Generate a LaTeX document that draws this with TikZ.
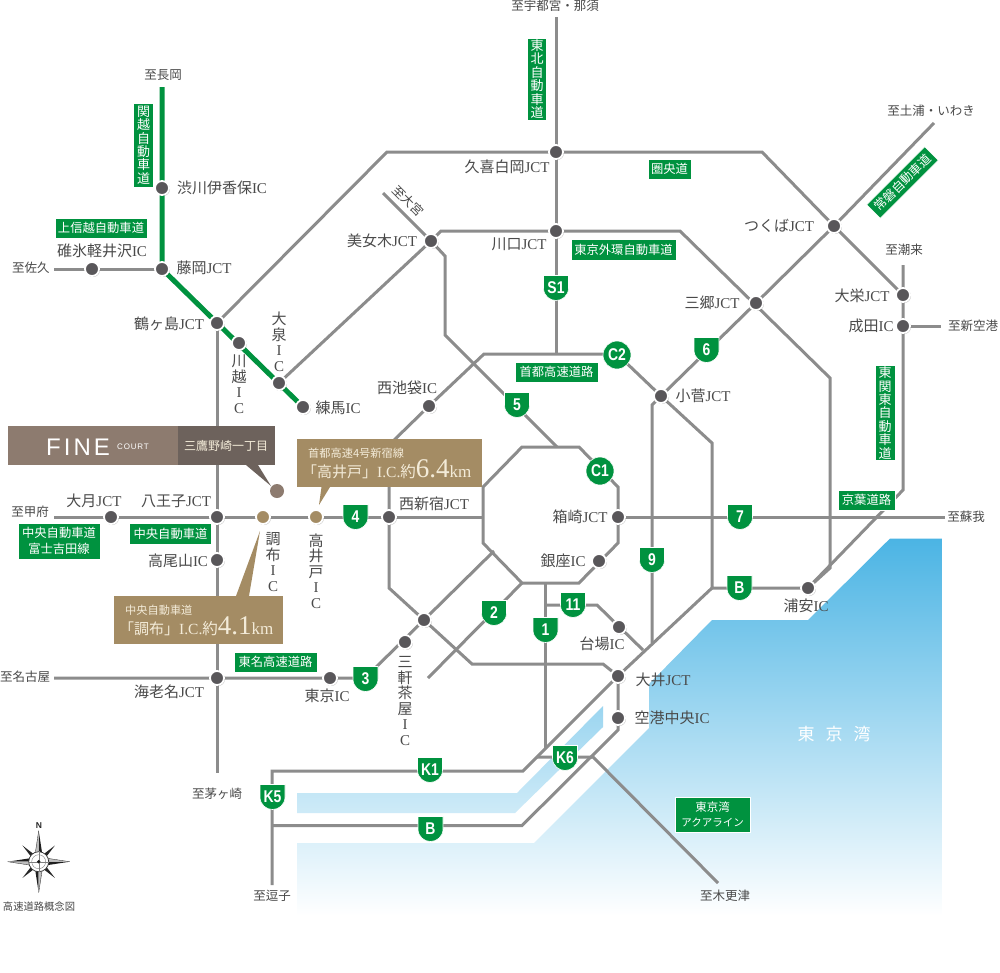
\documentclass[tikz,border=0pt]{standalone}
\usepackage{fontspec}
\usetikzlibrary{backgrounds,shadows,calc}
\setmainfont{Liberation Serif}
\setsansfont{Liberation Sans}
\newfontfamily\cjk{Noto Sans CJK JP}
\newfontfamily\badgefont[FakeStretch=0.82]{Liberation Sans Bold}
\definecolor{gr}{HTML}{00923F}
\definecolor{road}{HTML}{8C8C8C}
\definecolor{ink}{HTML}{4A4A4A}
\definecolor{jn}{HTML}{59575A}
\definecolor{tan}{HTML}{A48C64}
\definecolor{tanl}{HTML}{F3EBD8}
\definecolor{fine}{HTML}{8D7B6F}
\definecolor{fined}{HTML}{6D625C}
\makeatletter
\newdimen\shxa \newdimen\shxb \newdimen\shya \newdimen\shyb \newdimen\shxm \newdimen\shym
\pgfdeclareshape{shieldbadge}{%
  \inheritsavedanchors[from=rectangle]
  \inheritanchorborder[from=rectangle]
  \inheritanchor[from=rectangle]{center}
  \backgroundpath{%
    \southwest \shxa=\pgf@x \shya=\pgf@y
    \northeast \shxb=\pgf@x \shyb=\pgf@y
    \shxm=.5\shxa \advance\shxm by .5\shxb
    \shym=.5\shya \advance\shym by .5\shyb
    \pgfpathmoveto{\pgfqpoint{\shxa}{\shyb}}
    \pgfpathlineto{\pgfqpoint{\shxb}{\shyb}}
    \pgfpathlineto{\pgfqpoint{\shxb}{\shym}}
    \pgfpathcurveto{\pgfpointadd{\pgfqpoint{\shxb}{\shym}}{\pgfqpoint{0pt}{-8pt}}}
                   {\pgfpointadd{\pgfqpoint{\shxm}{\shya}}{\pgfqpoint{6pt}{0pt}}}
                   {\pgfqpoint{\shxm}{\shya}}
    \pgfpathcurveto{\pgfpointadd{\pgfqpoint{\shxm}{\shya}}{\pgfqpoint{-6pt}{0pt}}}
                   {\pgfpointadd{\pgfqpoint{\shxa}{\shym}}{\pgfqpoint{0pt}{-8pt}}}
                   {\pgfqpoint{\shxa}{\shym}}
    \pgfpathclose
  }%
}
\makeatother
\newcommand{\J}[1]{{\cjk #1}}
\tikzset{
  x=1pt,y=-1pt,
  roadline/.style={draw=road,line width=3pt,line join=miter},
  greenline/.style={draw=gr,line width=5pt},
  jct/.style={circle,fill=jn,draw=white,line width=1.8pt,minimum size=14pt,inner sep=0pt,outer sep=0pt,
     drop shadow={shadow xshift=1pt,shadow yshift=-1pt,opacity=.22,fill=black}},
  tanpt/.style={jct,fill=tan},
  place/.style={font=\fontsize{15}{15}\selectfont,text=ink,inner sep=0pt},
  dest/.style={font=\fontsize{12.5}{13}\cjk,text=ink,inner sep=0pt},
  vlab/.style={place,align=center,font=\fontsize{15}{15.5}\selectfont},
  gbox/.style={fill=gr,draw=white,line width=.4pt,text=white,inner sep=0pt,align=center,
     font=\fontsize{12.3}{14}\cjk},
  gvert/.style={gbox,font=\fontsize{13}{13.4}\cjk},
  badge/.style={shape=shieldbadge,fill=gr,draw=white,line width=.6pt,minimum width=25pt,minimum height=25pt,
     inner sep=0pt,outer sep=0pt,text=white,font=\fontsize{17}{17}\badgefont},
  cbadge/.style={circle,fill=gr,draw=white,line width=.6pt,minimum size=28pt,inner sep=0pt,outer sep=0pt,
     text=white,font=\fontsize{17}{17}\badgefont},
  tanbox/.style={fill=tan,inner sep=0pt,outer sep=0pt},
  tantxt/.style={text=tanl,inner sep=0pt,anchor=base west},
}
\begin{document}
\begin{tikzpicture}
\useasboundingbox (0,0) rectangle (1000,972);

% ---------- bends of the roads
\foreach \n/\xx/\yy in {
 tohN/556/17, kenA/387/152, kenB/762/152,
 tokN/903/265, tokB/903/490, nar/941/326,
 jobN/934/123, nineA/652/405, nineB/652/643,
 gaiA/441/231, gaiB/680/231, gaiC/830/378, gaiD/830/568,
 omi/383/193, fiveA/445/256, fiveB/445/335, fiveC/557/447,
 cA/484/354, cTop/617/354, cB/712/443, cC/712/588, shuto/556/354, cD/389/445, cE/389/588,
 cF/472/664, cG/603/664,
 oA/522/447, oB/579/447, oC/618/487, oD/618/543, oE/579/583, oF/522/583, oG/483/543, oH/483/487,
 fourW/54/517, fourE/483/517, sevenE/945/517,
 tomW/54/678, three/365/678, threeE/494/551,
 twoS/428/678, oneT/545/583, oneB/545/748,
 elA/545/605, elB/597/605, elC/643/650,
 kA/523/771, kB/272/771, kC/272/885,
 bA/272/825.5, bB/522/825.5, bC/618/730,
 ksA/537/757, ksB/593/757, ksC/718/883,
 usW/54/269, chS/217/773, kanN/162/87
}{\coordinate (\n) at (\xx,\yy);}

% ---------- junctions
\foreach \n/\xx/\yy in {
 kuki/556/152, kawag/556/231, bijo/431/241, tsuku/834/226, misa/756/303,
 daie/903/295, nari/903/326, kosu/661/396, hako/618/517, ginza/599/561,
 odai/619/627, oi/618/676, kuko/618/718, ura/808/588, nishi/389/517,
 ikeb/429/406, oizu/279/383, neri/303/407, kawa/239/343, tsuru/217/323,
 fuji/162/269, usui/92/269, shibu/162/188, otsu/111/517, hachi/217/517,
 takao/217/560, ebina/217/678, tokyo/330/678, sang/405/642, ikej/424/620
}{\node[jct] (\n) at (\xx,\yy) {};}
\node[tanpt] (chofu) at (263,517) {};
\node[tanpt] (taka) at (316,517) {};
\node[circle,fill=fine,minimum size=14pt,inner sep=0pt,outer sep=0pt] (mitaka) at (277,491) {};

% ---------- water and roads
\begin{scope}[on background layer]
  \fill[white] (0,0) rectangle (1000,972);
  \begin{scope}
    \clip (890,538.5) -- (942,538.5) -- (942,915) -- (297,915) -- (297,843) -- (534,843)
          -- (649,728) -- (649,684) -- (712,620) -- (808,620) -- cycle
          (297,793) -- (517,793) -- (603,706) -- (603,727) -- (515,813) -- (297,813) -- cycle;
    \shade[top color={rgb,255:red,75;green,180;blue,228},
          middle color={rgb,255:red,160;green,216;blue,241},
          bottom color=white] (297,538) rectangle (942,916);
  \end{scope}

  \path[roadline] (tohN) -- (kuki.center) -- (kawag.center) -- (shuto);
  \path[roadline] (tsuru.center) -- (kenA) -- (kenB) -- (tsuku.center) -- (daie.center);
  \path[roadline] (tokN) -- (daie.center) -- (nari.center) -- (tokB) -- (ura.center);
  \path[roadline] (nari.center) -- (nar);
  \path[roadline] (jobN) -- (tsuku.center) -- (misa.center) -- (kosu.center) -- (nineA) -- (nineB);
  \path[roadline] (bijo.center) -- (gaiA) -- (gaiB) -- (gaiC) -- (gaiD) -- (ura.center);
  \path[roadline] (bijo.center) -- (oizu.center);
  \path[roadline] (omi) -- (bijo.center) -- (fiveA) -- (fiveB) -- (fiveC);
  \path[roadline] (cD) -- (ikeb.center) -- (cA) -- (cTop) -- (kosu.center) -- (cB) -- (cC) -- (ura.center);
  \path[roadline] (cD) -- (cE) -- (ikej.center) -- (cF) -- (cG) -- (oi.center);
  \path[roadline] (cC) -- (oi.center) -- (kA) -- (kB) -- (kC);
  \path[roadline] (bA) -- (bB) -- (bC) -- (oi.center);
  \path[roadline] (ksA) -- (ksB) -- (ksC);
  \path[roadline] (oA) -- (oB) -- (oC) -- (oD) -- (oE) -- (oF) -- (oG) -- (oH) -- cycle;
  \path[roadline] (fourW) -- (fourE);
  \path[roadline] (hako.center) -- (sevenE);
  \path[roadline] (tomW) -- (three) -- (threeE);
  \path[roadline] (twoS) -- (oF);
  \path[roadline] (oneT) -- (oneB);
  \path[roadline] (elA) -- (elB) -- (elC);
  \path[roadline] (usW) -- (fuji.center);
  \path[roadline] (tsuru.center) -- (chS);
  \path[greenline] (kanN) -- (fuji.center) -- (neri.center);
\end{scope}

% ---------- shields
\foreach \n/\t/\xx/\yy in {
 bS/S1/556/288, b6/6/706.5/350, b5/5/517/405, b4/4/355.5/517, b7/7/740/517, b9/9/652/560,
 bB1/B/739.5/588, b2/2/494/613, b1/1/545.5/630, b11/11/573/605, b3/3/365.5/679,
 bK1/K1/430/770, bK6/K6/565/758, bK5/K5/272.5/797, bB2/B/430.5/829
}{\node[badge] (\n) at (\xx,\yy) {\t};}
\node[cbadge] (bC2) at (617,355) {C2};
\node[cbadge] (bC1) at (600,471) {C1};

% ---------- green road name plates
\node[gvert,minimum width=19pt,minimum height=82pt] (gTohoku) at (537,79) {東\\北\\自\\動\\車\\道};
\node[gvert,minimum width=20pt,minimum height=84pt] (gKan) at (143.5,145) {関\\越\\自\\動\\車\\道};
\node[gbox,minimum width=92pt,minimum height=20pt] (gJoshin) at (101,228) {上信越自動車道};
\node[gbox,minimum width=43pt,minimum height=20pt] (gKen) at (669.5,169) {圏央道};
\node[gbox,minimum width=105pt,minimum height=21pt] (gGai) at (623.5,249.5) {東京外環自動車道};
\node[gbox,rotate=45,minimum width=82pt,minimum height=19pt] (gJoban) at (902.5,182.5) {常磐自動車道};
\node[gvert,minimum width=20pt,minimum height=95pt] (gTok) at (885,413) {東\\関\\東\\自\\動\\車\\道};
\node[gbox,minimum width=57pt,minimum height=20pt] (gKeiyo) at (866.5,500) {京葉道路};
\node[gbox,minimum width=83pt,minimum height=20pt] (gShuto) at (556.5,372) {首都高速道路};
\node[gbox,minimum width=82pt,minimum height=36pt,font=\fontsize{12.3}{15.5}\cjk] (gFuji) at (59,541) {中央自動車道\\富士吉田線};
\node[gbox,minimum width=82pt,minimum height=21pt] (gChuo) at (170.5,533.5) {中央自動車道};
\node[gbox,minimum width=83pt,minimum height=20pt] (gTomei) at (275.5,662) {東名高速道路};
\node[gbox,minimum width=75pt,minimum height=35pt,font=\fontsize{11.5}{15}\cjk] (gAqua) at (712.5,814.5) {東京湾\\{\fontsize{10.5}{15}\selectfont アクアライン}};

% ---------- FINE COURT plate
\node[fill=fine,minimum width=170pt,minimum height=39pt,inner sep=0pt,outer sep=0pt] (fineA) at (93,445.5) {};
\fill[fined] (246,465) -- (258,465) -- (271,486) -- cycle;
\node[fill=fined,minimum width=97pt,minimum height=39pt,inner sep=0pt,outer sep=0pt] (fineB) at (226.5,445.5) {};
\node[text=white,inner sep=0pt,font=\fontsize{24}{25}\sffamily,anchor=base west] (fineT) at (46,455) {F\hspace{3pt}I\hspace{3pt}N\hspace{3pt}E};
\node[text=white,inner sep=0pt,font=\fontsize{8}{8}\sffamily,anchor=base west] (fineC) at (117,449) {C\hspace{.8pt}O\hspace{.8pt}U\hspace{.8pt}R\hspace{.8pt}T};
\node[text=tanl,inner sep=0pt,font=\fontsize{12}{12}\cjk] (fineM) at (226,446) {三鷹野崎一丁目};

% ---------- distance callouts
\node[tanbox,minimum width=185pt,minimum height=48pt] (tkBox) at (389.5,463) {};
\fill[tan] (321.5,487) -- (330,487) -- (319,505) -- cycle;
\node[tantxt,font=\fontsize{11.2}{12}\cjk] (tk1) at (308,457) {首都高速4号新宿線};
\node[tantxt,font=\fontsize{15.5}{15}\selectfont] (tk2) at (302,477) {\J{\fontsize{15}{15}\selectfont 「高井戸」}I.C.\J{約}{\fontsize{27}{27}\selectfont 6.4}{\fontsize{17}{17}\selectfont km}};
\node[tanbox,minimum width=169pt,minimum height=48pt] (chBox) at (198.5,620) {};
\fill[tan] (236,596) -- (249,596) -- (260,531) -- cycle;
\node[tantxt,font=\fontsize{11.2}{12}\cjk] (ch1) at (125,614) {中央自動車道};
\node[tantxt,font=\fontsize{15.5}{15}\selectfont] (ch2) at (119,634) {\J{\fontsize{15}{15}\selectfont 「調布」}I.C.\J{約}{\fontsize{27}{27}\selectfont 4.1}{\fontsize{17}{17}\selectfont km}};

% ---------- place names
\node[place] (t1) at (507,167) {\J{久喜白岡}JCT};
\node[place] (t2) at (519,244) {\J{川口}JCT};
\node[place] (t3) at (382,241) {\J{美女木}JCT};
\node[place] (t4) at (779,226) {\J{つくば}JCT};
\node[place] (t5) at (712,303) {\J{三郷}JCT};
\node[place] (t6) at (862,296) {\J{大栄}JCT};
\node[place] (t7) at (871,326) {\J{成田}IC};
\node[place] (t8) at (703,396) {\J{小菅}JCT};
\node[place] (t9) at (580,517) {\J{箱崎}JCT};
\node[place] (t10) at (563,561) {\J{銀座}IC};
\node[place] (t11) at (602,644) {\J{台場}IC};
\node[place] (t12) at (663,680) {\J{大井}JCT};
\node[place] (t13) at (672,718) {\J{空港中央}IC};
\node[place] (t14) at (806,606) {\J{浦安}IC};
\node[place] (t15) at (434,504) {\J{西新宿}JCT};
\node[place] (t16) at (407,388) {\J{西池袋}IC};
\node[place] (t17) at (338,408) {\J{練馬}IC};
\node[place] (t18) at (222,188) {\J{渋川伊香保}IC};
\node[place] (t19) at (204,268) {\J{藤岡}JCT};
\node[place] (t20) at (102,251) {\J{碓氷軽井沢}IC};
\node[place] (t21) at (169,324) {\J{鶴ヶ島}JCT};
\node[place] (t22) at (94,501) {\J{大月}JCT};
\node[place] (t23) at (176,501) {\J{八王子}JCT};
\node[place] (t24) at (178,561) {\J{高尾山}IC};
\node[place] (t25) at (169,692) {\J{海老名}JCT};
\node[place] (t26) at (327,696) {\J{東京}IC};

\node[vlab] (v1) at (239,384) {\J{川}\\\J{越}\\I\\C};
\node[vlab] (v2) at (279,342) {\J{大}\\\J{泉}\\I\\C};
\node[vlab] (v3) at (273,562) {\J{調}\\\J{布}\\I\\C};
\node[vlab] (v4) at (316,571) {\J{高}\\\J{井}\\\J{戸}\\I\\C};
\node[vlab] (v5) at (405,701) {\J{三}\\\J{軒}\\\J{茶}\\\J{屋}\\I\\C};

\node[dest] (d1) at (555,6) {至宇都宮・那須};
\node[dest] (d2) at (163,75) {至長岡};
\node[dest] (d3) at (931,111) {至土浦・いわき};
\node[dest] (d4) at (904,250) {至潮来};
\node[dest] (d5) at (973,326) {至新空港};
\node[dest] (d6) at (966,517) {至蘇我};
\node[dest] (d7) at (31,268) {至佐久};
\node[dest] (d8) at (30,512) {至甲府};
\node[dest] (d9) at (25,677) {至名古屋};
\node[dest] (d10) at (217,794) {至茅ヶ崎};
\node[dest] (d11) at (272,896) {至逗子};
\node[dest] (d12) at (725,896) {至木更津};
\node[dest,rotate=-45] (d13) at (408,201) {至大宮};
\node[text=white,inner sep=0pt,font=\fontsize{17}{17}\cjk] (bay) at (834,734) {東\hspace{11pt}京\hspace{11pt}湾};

% ---------- compass
\begin{scope}[shift={(38.7,861.7)}]
  \foreach \a in {45,135,225,315}{
    \fill[black!85,rotate=\a] (0,-3) -- (23,0) -- (0,3) -- cycle;
  }
  \foreach \a in {0,90,180,270}{
    \fill[black!88,rotate=\a] (5,0) -- (31,0) -- (5,4) -- cycle;
    \fill[black!25,rotate=\a] (5,0) -- (31,0) -- (5,-4) -- cycle;
    \draw[black!88,line width=.3pt,rotate=\a] (5,-4) -- (31,0);
  }
  \node[circle,fill=white,draw=black!80,line width=.7pt,minimum size=20pt,inner sep=0pt] (cmpO) at (0,0) {};
  \node[circle,draw=black!50,line width=.4pt,minimum size=14pt,inner sep=0pt] (cmpI) at (0,0) {};
  \draw[black!50,line width=.3pt] (cmpO.west) -- (cmpO.east) (cmpO.north) -- (cmpO.south);
  \node[circle,fill=black!90,minimum size=3.6pt,inner sep=0pt] (cmpD) at (0,0) {};
\end{scope}
\node[inner sep=0pt,text=black!85,font=\fontsize{8.5}{9}\sffamily\bfseries] (cmpN) at (39,826) {N};
\node[dest,font=\fontsize{10.3}{11}\cjk] (cap) at (39,907) {高速道路概念図};
\end{tikzpicture}
\end{document}
